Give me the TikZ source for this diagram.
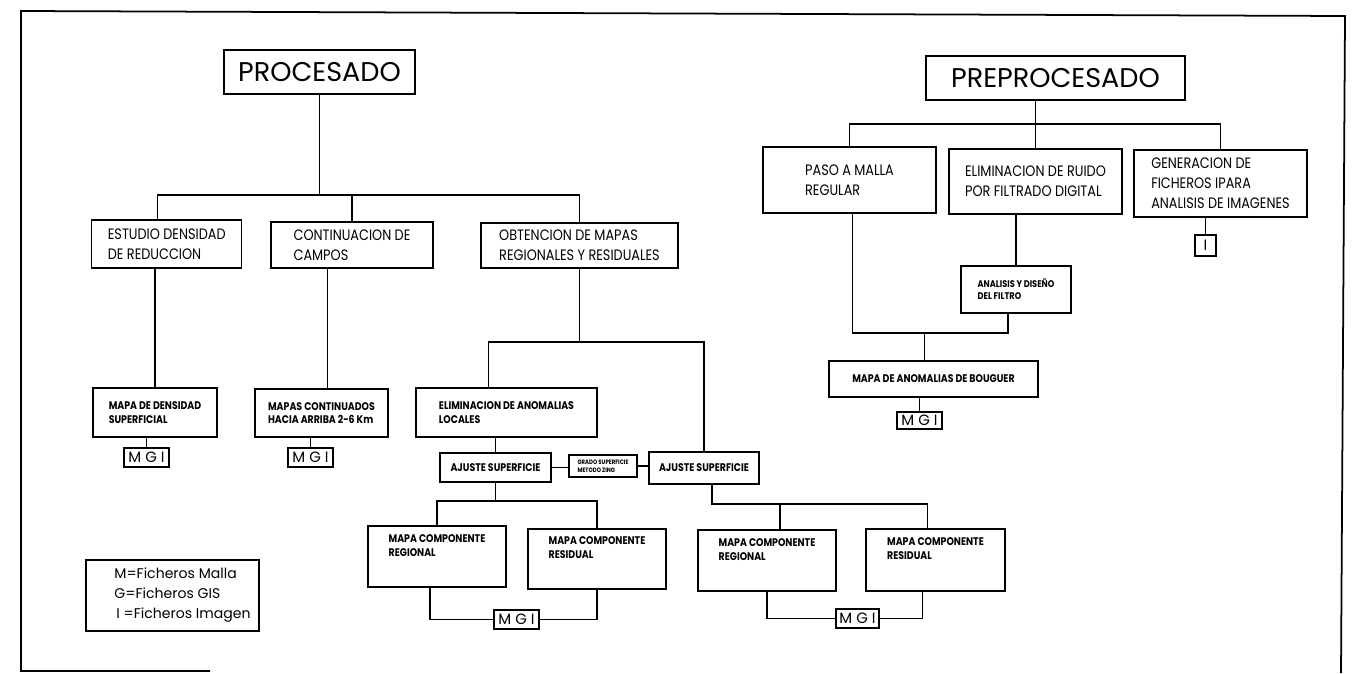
\documentclass[tikz,border=0pt]{standalone}
\usepackage{fontspec}
\setmainfont{Poppins}
\newfontfamily\cajafont[FakeStretch=0.85]{Poppins}
\usetikzlibrary{calc}
\newdimen\pxu
\pxu=0.02cm

\begin{document}
\begin{tikzpicture} [x=0.02cm, y=-0.02cm, line width=0.6pt,
  titulo/.style=
  {rectangle, draw, line width=0.8pt, inner sep=0pt,
    font=\fontsize{15.4}{18}\selectfont},
  etapa/.style=
  {rectangle, draw, line width=0.8pt, align=left, inner sep=0pt,
    font=\cajafont\fontsize{8.6}{11.4}\selectfont},
  subetapa/.style=
  {etapa, font=\cajafont\bfseries\fontsize{6.3}{7.8}\selectfont},
  fich/.style=
  {rectangle, draw, line width=0.8pt, inner sep=0pt,
    minimum width=45\pxu, minimum height=19\pxu,
    font=\fontsize{8.5}{9}\selectfont}]
\useasboundingbox (0,0) rectangle (1358,673);
\draw [line width=1pt] (210,671) -- (21,671) -- (21,11) -- (1345,16) -- (1341,673);

% procesado
\node [titulo, minimum width=191\pxu, minimum height=44\pxu] (procesado) at (319.5,72) {PROCESADO};
\node [etapa, minimum width=150\pxu, minimum height=48\pxu] (estudio) at (166.75,244) {ESTUDIO DENSIDAD\\DE REDUCCION};
\node [etapa, minimum width=162\pxu, minimum height=46\pxu] (contin) at (352,245) {CONTINUACION DE\\CAMPOS};
\node [etapa, minimum width=197\pxu, minimum height=45\pxu] (obtencion) at (579.5,245.5) {OBTENCION DE MAPAS\\REGIONALES Y RESIDUALES};
\node [subetapa, minimum width=124\pxu, minimum height=49\pxu] (densidad) at (155,412.5) {MAPA DE DENSIDAD\\SUPERFICIAL};
\node [fich] (mgiD) at (146.5,457.5) {M G I};
\node [subetapa, minimum width=133\pxu, minimum height=48\pxu] (continuados) at (321.5,413) {MAPAS CONTINUADOS\\HACIA ARRIBA 2-6 Km};
\node [fich] (mgiC) at (310.5,457.5) {M G I};
\node [subetapa, minimum width=181\pxu, minimum height=49\pxu] (locales) at (506.5,412.5) {ELIMINACION DE ANOMALIAS\\LOCALES};
\node [subetapa, minimum width=111\pxu, minimum height=29\pxu] (ajusteA) at (495.5,467.5) {AJUSTE SUPERFICIE};
\node [subetapa, minimum width=68\pxu, minimum height=22\pxu, font=\cajafont\bfseries\fontsize{3.6}{4.6}\selectfont] (grado) at (603,466) {GRADO SUPERFICIE\\METODO ZING};
\node [subetapa, minimum width=110\pxu, minimum height=32\pxu] (ajusteB) at (704,468) {AJUSTE SUPERFICIE};
\node [subetapa, minimum width=138\pxu, minimum height=61\pxu] (regA) at (437,556.5) {MAPA COMPONENTE\\REGIONAL\\[5pt]};
\node [subetapa, minimum width=138\pxu, minimum height=60\pxu] (resA) at (597,559) {MAPA COMPONENTE\\RESIDUAL\\[5pt]};
\node [fich] (mgiA) at (516.5,619.5) {M G I};
\node [subetapa, minimum width=138\pxu, minimum height=61\pxu] (regB) at (767,560.5) {MAPA COMPONENTE\\REGIONAL\\[5pt]};
\node [subetapa, minimum width=139\pxu, minimum height=62\pxu] (resB) at (935.5,560) {MAPA COMPONENTE\\RESIDUAL\\[5pt]};
\node [fich, minimum width=43\pxu] (mgiR) at (857.5,618.5) {M G I};
\node [rectangle, draw, line width=0.8pt, align=left, inner sep=0pt,
  minimum width=173\pxu, minimum height=71\pxu, font=\fontsize{8}{11.4}\selectfont]
  (leyenda) at (172.5,595.5) {\hspace*{20\pxu}M=Ficheros Malla\\\hspace*{20\pxu}G=Ficheros GIS\\\hspace*{22\pxu}I =Ficheros Imagen};

% preprocesado
\node [titulo, minimum width=259\pxu, minimum height=44\pxu] (preprocesado) at (1055.5,78) {PREPROCESADO};
\node [etapa, minimum width=173\pxu, minimum height=66\pxu] (paso) at (849.5,180) {PASO A MALLA\\REGULAR};
\node [etapa, minimum width=173\pxu, minimum height=65\pxu] (ruido) at (1035.5,181.5) {ELIMINACION DE RUIDO\\POR FILTRADO DIGITAL};
\node [etapa, minimum width=173\pxu, minimum height=67\pxu] (generacion) at (1220.5,183.5) {GENERACION DE\\FICHEROS IPARA\\ANALISIS DE IMAGENES};
\node [fich, minimum width=21\pxu, minimum height=21\pxu] (imgI) at (1205.5,245.5) {I};
\node [subetapa, minimum width=110\pxu, minimum height=47\pxu, font=\cajafont\bfseries\fontsize{5.5}{7}\selectfont] (analisis) at (1016,289.5) {ANALISIS Y DISEÑO\\DEL FILTRO};
\node [subetapa, minimum width=209\pxu, minimum height=36\pxu] (bouguer) at (933.5,379) {MAPA DE ANOMALIAS DE BOUGUER};
\node [fich, minimum height=17\pxu] (mgiB) at (919.5,420.5) {M G I};

% conectores procesado
\coordinate (busP) at (0,195);
\draw (procesado.south) -- (procesado.south |- busP);
\draw ($(estudio.north)+(-9,0)$) |- (obtencion.north |- busP) -- (obtencion.north);
\draw (contin.north) -- (contin.north |- busP);
\draw (densidad.north) -- (densidad.north |- estudio.south);
\coordinate (cc) at ($(continuados.north)+(6,0)$);
\draw (cc) -- (cc |- contin.south);
\draw (mgiD.north) -- (mgiD.north |- densidad.south);
\draw (mgiC.north) -- (mgiC.north |- continuados.south);
\coordinate (busO) at (0,342);
\draw (obtencion.south) -- (obtencion.south |- busO);
\draw ($(locales.north)+(-18,0)$) |- (ajusteB.north |- busO) -- (ajusteB.north);
\draw (ajusteA.north) -- (ajusteA.north |- locales.south);
\draw (ajusteA.east) -- (ajusteA.east -| grado.west);
\draw (grado.east) -- (grado.east -| ajusteB.west);
\coordinate (busA) at (0,501);
\draw (ajusteA.south) -- (ajusteA.south |- busA);
\draw (regA.north) |- (resA.north |- busA) -- (resA.north);
\draw ($(regA.south)+(-7,0)$) |- (mgiA.west);
\draw (mgiA.east) -| (resA.south);
\coordinate (busB) at (0,504);
\coordinate (rb) at ($(resB.north)+(-8,0)$);
\coordinate (rg) at ($(regB.north)+(13,0)$);
\draw ($(ajusteB.south)+(8,0)$) |- (rb |- busB) -- (rb);
\draw (rg) -- (rg |- busB);
\draw (regB.south) |- (mgiR.west);
\draw (mgiR.east) -| ($(resB.south)+(-13,0)$);

% conectores preprocesado
\coordinate (busR) at (0,124);
\draw (ruido.north) -- (ruido.north |- preprocesado.south);
\draw (paso.north) |- (generacion.north |- busR) -- (generacion.north);
\draw (analisis.north) -- (analisis.north |- ruido.south);
\draw (imgI.north) -- (imgI.north |- generacion.south);
\coordinate (busU) at (0,333);
\coordinate (an) at ($(analisis.south)+(-8,0)$);
\coordinate (bq) at ($(bouguer.north)+(-9,0)$);
\draw ($(paso.south)+(3,0)$) |- (an |- busU) -- (an);
\draw (bq) -- (bq |- busU);
\draw (mgiB.north) -- (mgiB.north |- bouguer.south);

\end{tikzpicture}
\end{document}
